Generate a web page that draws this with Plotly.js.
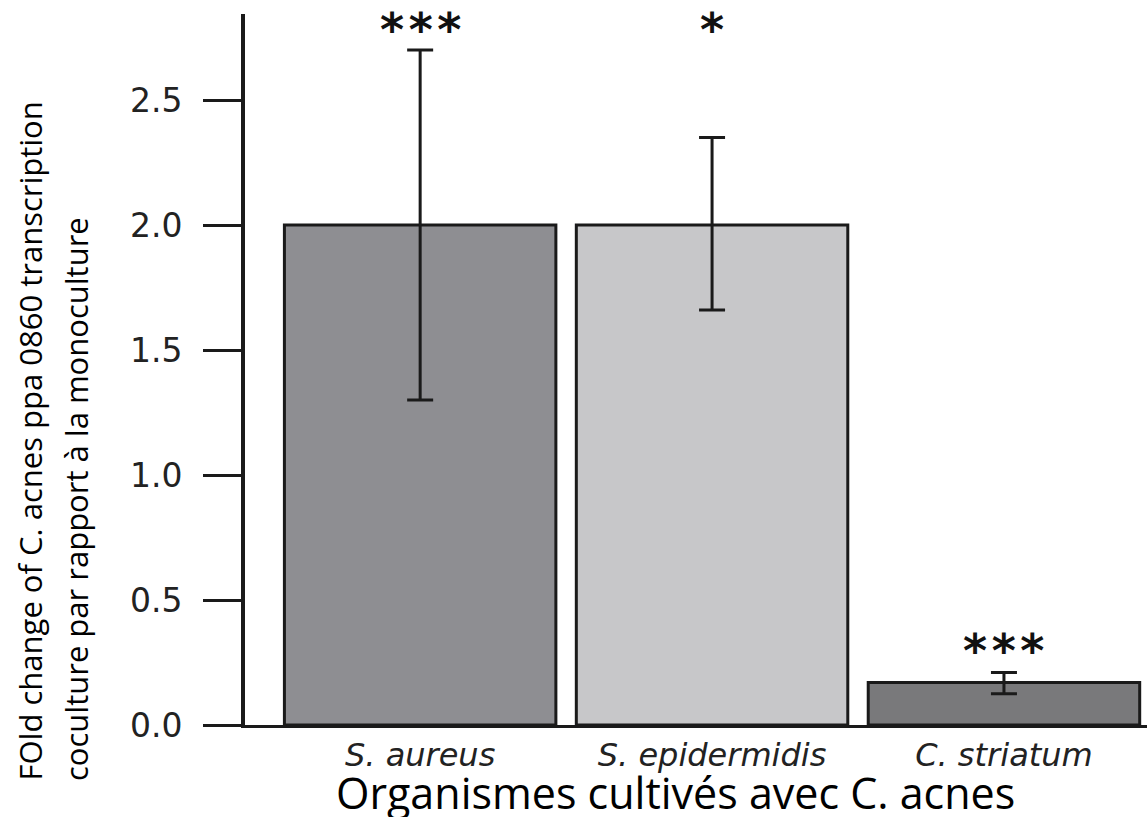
<!DOCTYPE html>
<html>
<head>
<meta charset="utf-8">
<script src="https://cdn.plot.ly/plotly-3.0.1.min.js"></script>
<style>html,body{margin:0;padding:0;background:#fff;}#chart{width:1147px;height:817px;}</style>
</head>
<body>
<div id="chart"></div>
<script>
const categories = ["S. aureus", "S. epidermidis", "C. striatum"];
const foldChange = [2.0, 2.0, 0.17];
const errPlus = [0.70, 0.35, 0.04];
const errMinus = [0.70, 0.34, 0.045];
const barColors = ["#8e8e92", "#c7c7c9", "#79797b"];
const significance = ["*\u200a*\u200a*", "*", "*\u200a*\u200a*"];
const starY = [2.78, 2.78, 0.295];
const yTicks = [0, 0.5, 1.0, 1.5, 2.0, 2.5];
const yTickText = ["0.0", "0.5", "1.0", "1.5", "2.0", "2.5"];
const yTitleLines = ["FOld change of C. acnes ppa 0860 transcription", "coculture par rapport à la monoculture"];
const xTitle = "Organismes cultivés avec C. acnes";

const trace = {
  type: "bar",
  x: [0, 1, 2],
  y: foldChange,
  width: 0.93,
  marker: {color: barColors, line: {color: "#1a1a1a", width: 3}},
  error_y: {type: "data", array: errPlus, arrayminus: errMinus, symmetric: false,
            color: "#1a1a1a", thickness: 3, width: 13},
  hoverinfo: "none"
};

const annotations = significance.map((s, i) => ({
  x: i, y: starY[i], xref: "x", yref: "y", text: "<b>" + s + "</b>", showarrow: false,
  xanchor: "center", yanchor: "middle",
  font: {family: "DejaVu Sans", size: 46, color: "#111"}
}));

annotations.push({
  xref: "paper", yref: "paper", x: (29 - 245) / 902, y: (725 - 783) / 711,
  xanchor: "center", yanchor: "bottom", textangle: -90, showarrow: false,
  text: yTitleLines[0],
  font: {family: "Open Sans", size: 31, color: "#000"}
});
annotations.push({
  xref: "paper", yref: "paper", x: (76 - 245) / 902, y: (725 - 783) / 711,
  xanchor: "center", yanchor: "bottom", textangle: -90, showarrow: false,
  text: yTitleLines[1],
  font: {family: "Open Sans", size: 31, color: "#000"}
});
annotations.push({
  xref: "paper", yref: "paper", x: (675 - 245) / 902, y: (725 - 761) / 711,
  xanchor: "center", yanchor: "top", showarrow: false,
  text: xTitle,
  font: {family: "Open Sans", size: 43, color: "#000"}
});

const layout = {
  width: 1147, height: 817,
  margin: {l: 245, r: 0, t: 14, b: 92, pad: 0},
  paper_bgcolor: "#fff", plot_bgcolor: "#fff",
  showlegend: false,
  xaxis: {
    range: [-0.6, 2.49], tickmode: "array", tickvals: [0, 1, 2], ticktext: categories,
    showgrid: false, zeroline: false, showline: true, linecolor: "#1a1a1a", linewidth: 3,
    ticks: "", ticklabelstandoff: 0,
    tickfont: {family: "DejaVu Sans", size: 32, color: "#222", style: "italic"}
  },
  yaxis: {
    range: [0, 2.844], tickmode: "array", tickvals: yTicks, ticktext: yTickText,
    showgrid: false, zeroline: false, showline: true, linecolor: "#1a1a1a", linewidth: 4,
    ticks: "outside", ticklen: 38, tickwidth: 3, tickcolor: "#1a1a1a", ticklabelstandoff: 14,
    tickfont: {family: "DejaVu Sans", size: 33, color: "#222"}
  },
  annotations: annotations
};

Plotly.newPlot("chart", [trace], layout, {displayModeBar: false, staticPlot: true});
</script>
</body>
</html>
